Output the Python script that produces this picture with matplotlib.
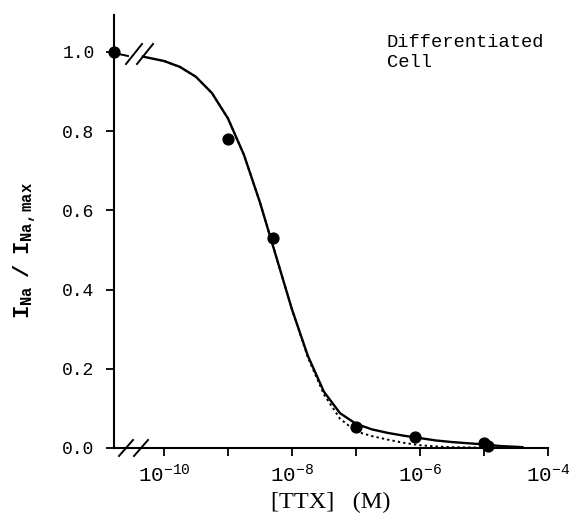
import numpy as np
import matplotlib
matplotlib.use("Agg")
import matplotlib.pyplot as plt
from matplotlib.ticker import FixedLocator, NullLocator

# ---- data ----
control_x = 10 ** -10.78          # control (no TTX), drawn on the broken axis
control_y = 1.0
ttx_conc = [1e-9, 5e-9, 1e-7, 8.5e-7, 1e-5, 1.15e-5]
ina_rel = [0.78, 0.53, 0.053, 0.028, 0.013, 0.006]

solid_logx = [-10.33, -10.0, -9.75, -9.5, -9.25, -9.0, -8.75, -8.5, -8.25,
              -8.0, -7.75, -7.5, -7.25, -7.0, -6.75, -6.5, -6.25, -6.0,
              -5.75, -5.5, -5.25, -5.0, -4.75, -4.5, -4.4]
solid_y = [0.988, 0.977, 0.962, 0.937, 0.896, 0.832, 0.740, 0.620, 0.485,
           0.350, 0.232, 0.142, 0.088, 0.061, 0.047, 0.038, 0.031, 0.025,
           0.019, 0.015, 0.012, 0.009, 0.005, 0.003, 0.002]

dotted_logx = [-10.33, -10.0, -9.75, -9.5, -9.25, -9.0, -8.75, -8.5, -8.25,
               -8.0, -7.75, -7.5, -7.25, -7.0, -6.75, -6.5, -6.25, -6.0,
               -5.75, -5.5, -5.0, -4.7]
dotted_y = [0.988, 0.977, 0.962, 0.937, 0.896, 0.832, 0.740, 0.620, 0.485,
            0.350, 0.228, 0.135, 0.074, 0.042, 0.030, 0.021, 0.013, 0.007,
            0.004, 0.002, 0.001, 0.0]

yticks = [0.0, 0.2, 0.4, 0.6, 0.8, 1.0]
xtick_exp = [-10, -9, -8, -7, -6, -5, -4]
xlabel_exp = [-10, -8, -6, -4]
annotation = "Differentiated\nCell"

# ---- styling ----
plt.rcParams['font.family'] = ['Liberation Mono', 'DejaVu Sans']
plt.rcParams['mathtext.fontset'] = 'custom'
plt.rcParams['mathtext.rm'] = 'Liberation Mono'
plt.rcParams['mathtext.bf'] = 'Liberation Mono:bold'
plt.rcParams['mathtext.it'] = 'Liberation Mono:italic'

W, H = 569, 525
fig = plt.figure(figsize=(W / 100, H / 100), dpi=100)
L, R, B, T = 114, 548, 448, 15
ax = fig.add_axes([L / W, 1 - B / H, (R - L) / W, (B - T) / H])

ax.set_xscale('log')
ax.set_xlim(10 ** -10.78, 1e-4)
ax.set_ylim(0, 1.093)

ax.plot(10 ** np.array(solid_logx), solid_y, color='black', lw=1.7,
        solid_joinstyle='round', zorder=3)
ax.plot(10 ** np.array(dotted_logx), dotted_y, color='black', lw=1.4,
        ls=(0, (1.2, 1.6)), zorder=2)
ax.plot(ttx_conc, ina_rel, 'o', color='black', ms=7.8, zorder=4, clip_on=False)
ax.plot([control_x], [control_y], 'o', color='black', ms=7.8, zorder=4,
        clip_on=False)

for s in ['top', 'right']:
    ax.spines[s].set_visible(False)
for s in ['left', 'bottom']:
    ax.spines[s].set_linewidth(1.5)

ax.xaxis.set_major_locator(FixedLocator([10.0 ** e for e in xtick_exp]))
ax.xaxis.set_minor_locator(NullLocator())
ax.set_xticklabels([r'$\mathregular{10^{%d}}$' % e if e in xlabel_exp else ''
                    for e in xtick_exp])
ax.set_yticks(yticks)
ax.set_yticklabels(['%.1f' % v for v in yticks])
ax.tick_params(axis='both', direction='out', length=6, width=1.3,
               labelsize=13)
ax.tick_params(axis='x', labelsize=15, pad=5)
ax.tick_params(axis='y', pad=8)

# axis break marks (pixel offsets relative to axes)
def px2ax(px, py):
    return (px - L) / (R - L), (B - py) / (B - T)

for cx in (134, 145):
    x0, y0 = px2ax(cx - 8, 54 + 10)
    x1, y1 = px2ax(cx + 8, 54 - 10)
    ax.plot([x0, x1], [y0, y1], color='black', lw=1.4,
            transform=ax.transAxes, clip_on=False)
xa, ya = px2ax(114, 53)
xb, yb = px2ax(128, 56)
ax.plot([xa, xb], [ya, yb], color='black', lw=1.4, transform=ax.transAxes,
        clip_on=False)
for cx in (126, 141):
    x0, y0 = px2ax(cx - 7, 448 + 8)
    x1, y1 = px2ax(cx + 7, 448 - 8)
    ax.plot([x0, x1], [y0, y1], color='black', lw=1.4,
            transform=ax.transAxes, clip_on=False)

ax.text(0.628, 0.955, annotation, transform=ax.transAxes, fontsize=13.5,
        va='top', ha='left', linespacing=1.2)

ax.set_xlabel('[TTX]   (M)', family='Liberation Serif', fontsize=17.5,
              labelpad=4)
ax.set_ylabel(r'$\mathbf{I_{Na}\ \ /\ \ I_{Na,max}}$', fontsize=16)
ax.yaxis.set_label_coords(-0.175, 0.457)

fig.savefig('out.png', dpi=100)
